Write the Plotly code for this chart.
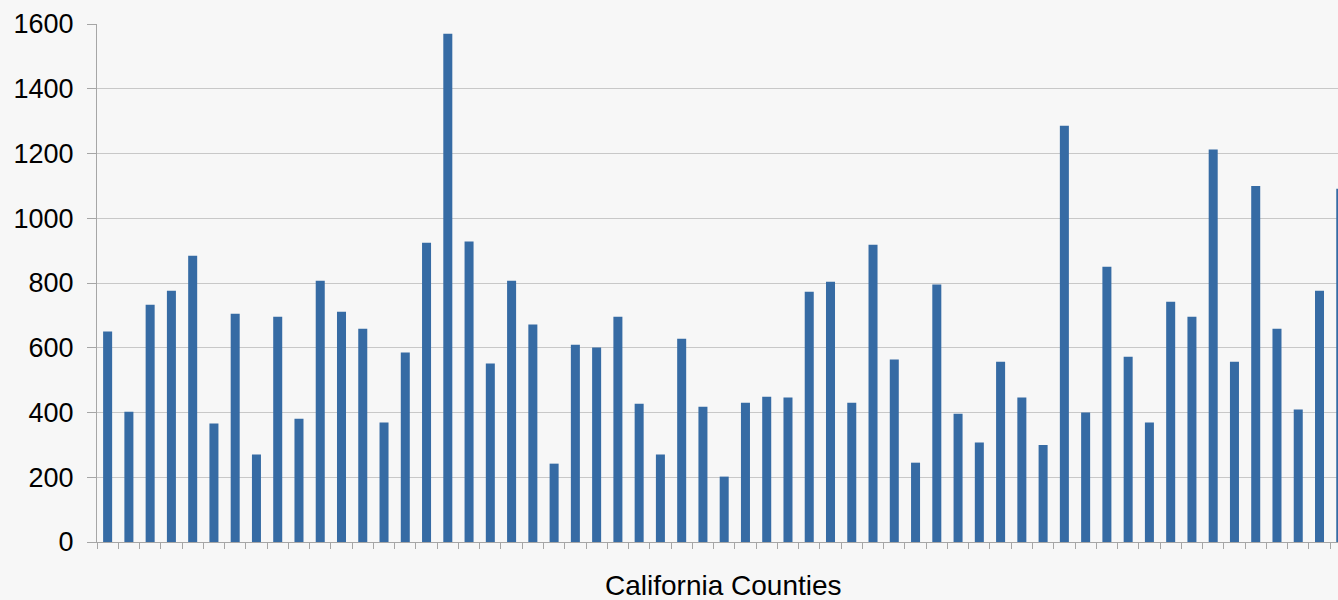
import plotly.graph_objects as go

# Data (one bar per county, tick labels hidden)
counties = [f"County {i}" for i in range(1, 60)]
values = [
    650, 402, 733, 776, 884, 366, 705, 270, 696, 381,
    807, 711, 659, 369, 585, 924, 1570, 928, 551, 807,
    672, 242, 609, 601, 696, 427, 270, 628, 418, 202,
    430, 449, 446, 773, 804, 430, 918, 564, 245, 795,
    396, 307, 557, 446, 300, 1286, 400, 850, 572, 369,
    742, 696, 1212, 557, 1100, 659, 409, 776, 1091,
]
y_ticks = [0, 200, 400, 600, 800, 1000, 1200, 1400, 1600]
x_title = "California Counties"

BAR = "#366BA4"
BG = "#F7F7F7"
GRID = "#C8C8C8"
AXIS = "#A6A6A6"
FONT = "Liberation Sans, Arial, sans-serif"

fig = go.Figure(
    go.Bar(x=counties, y=values, marker=dict(color=BAR, line=dict(width=0)))
)

fig.update_layout(
    width=1338,
    height=600,
    margin=dict(l=97, r=0, t=24, b=58, pad=0),
    paper_bgcolor=BG,
    plot_bgcolor=BG,
    bargap=0.576,
    showlegend=False,
    font=dict(family=FONT, color="#000000"),
)

fig.update_xaxes(
    type="category",
    categoryorder="array",
    categoryarray=counties,
    range=[-0.5, 57.87],
    tickson="boundaries",
    ticks="outside",
    ticklen=6,
    tickwidth=1,
    tickcolor=AXIS,
    showticklabels=False,
    showgrid=False,
    showline=True,
    linecolor=AXIS,
    linewidth=1,
    zeroline=False,
)

fig.update_yaxes(
    range=[0, 1600],
    tickmode="array",
    tickvals=y_ticks,
    ticktext=[str(v) for v in y_ticks],
    ticks="outside",
    ticklen=9,
    tickwidth=1,
    tickcolor=AXIS,
    tickfont=dict(size=27, family=FONT, color="#000000"),
    ticklabelstandoff=8,
    showgrid=True,
    gridcolor=GRID,
    gridwidth=1,
    showline=True,
    linecolor=AXIS,
    linewidth=1,
    zeroline=False,
)

fig.add_annotation(
    text=x_title,
    xref="paper",
    yref="paper",
    x=0.5052,
    y=0,
    xanchor="center",
    yanchor="top",
    yshift=-26,
    showarrow=False,
    font=dict(size=28, family=FONT, color="#000000"),
)

fig.write_html(
    "out.html",
    config={"displayModeBar": False},
    post_script="document.body.style.margin='0';document.body.style.overflow='hidden';",
)
